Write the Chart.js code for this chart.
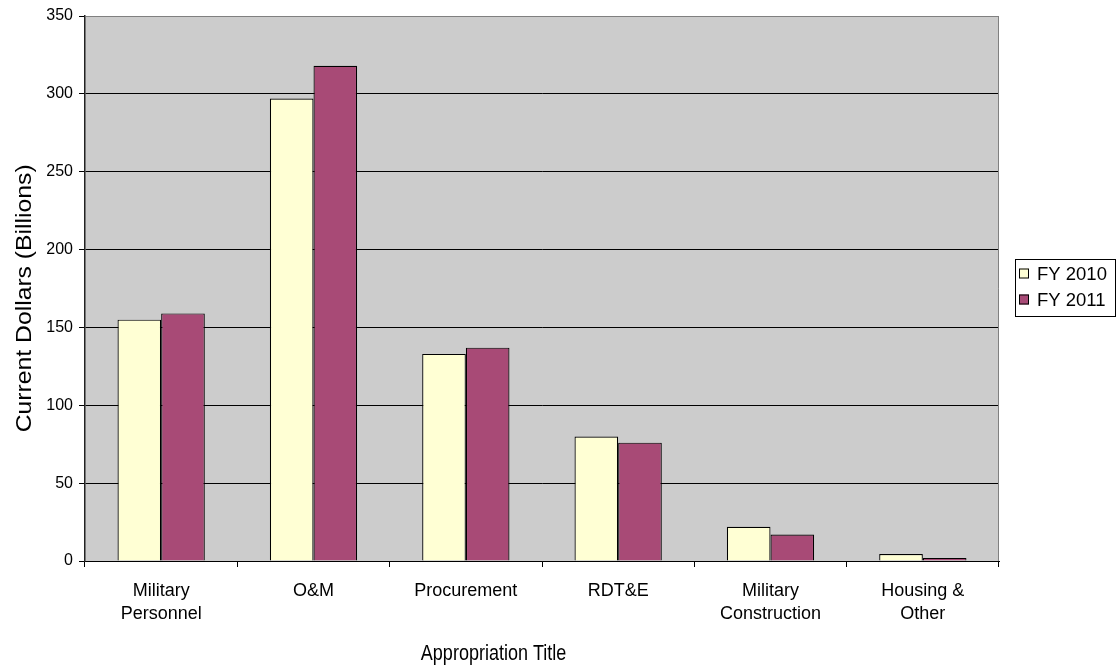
<!DOCTYPE html>
<html>
<head>
<meta charset="utf-8">
<title>Appropriation Title — FY 2010 vs FY 2011</title>
<script src="https://cdn.jsdelivr.net/npm/chart.js@4/dist/chart.umd.min.js"></script>
<style>
  html, body { margin: 0; padding: 0; background: #ffffff; }
  canvas { display: block; }
</style>
</head>
<body>
<canvas id="chart" width="1117" height="667"></canvas>
<script>
// Categories (multi-line labels as drawn under the axis)
const categories = [
  ['Military', 'Personnel'],
  'O&M',
  'Procurement',
  'RDT&E',
  ['Military', 'Construction'],
  ['Housing &', 'Other']
];

// Budget by appropriation title, current dollars (billions)
const fy2010 = [155, 297, 133, 80, 22, 4.5];
const fy2011 = [159, 318, 137, 76, 17, 2];

const seriesNames = ['FY 2010', 'FY 2011'];
const yTicks = [0, 50, 100, 150, 200, 250, 300, 350];

const xTitle = 'Appropriation Title';
const yTitle = 'Current Dollars (Billions)';

const FONT = '"Liberation Sans", Arial, sans-serif';

// Grey plot area with a thin grey frame on top/right
const plotBackground = {
  id: 'plotBackground',
  beforeDraw(chart) {
    const { ctx, chartArea: a } = chart;
    ctx.save();
    ctx.fillStyle = '#CCCCCC';
    ctx.fillRect(a.left, a.top, a.right - a.left, a.bottom - a.top);
    ctx.restore();
  },
  afterDraw(chart) {
    const { ctx, chartArea: a } = chart;
    ctx.save();
    ctx.strokeStyle = '#808080';
    ctx.lineWidth = 1;
    ctx.beginPath();
    ctx.moveTo(Math.round(a.left) + 0.5, Math.round(a.top) + 0.5);
    ctx.lineTo(Math.round(a.right) - 0.5, Math.round(a.top) + 0.5);
    ctx.lineTo(Math.round(a.right) - 0.5, Math.round(a.bottom));
    ctx.stroke();
    ctx.restore();
  }
};

// Axis titles, slightly stretched along their length
const axisTitles = {
  id: 'axisTitles',
  afterDraw(chart) {
    const { ctx, chartArea: a } = chart;
    ctx.save();
    ctx.fillStyle = '#000';
    ctx.textAlign = 'center';
    ctx.textBaseline = 'alphabetic';

    // x title
    ctx.save();
    ctx.translate(a.left + (a.right - a.left) * 0.447, 660);
    ctx.scale(1, 1.18);
    ctx.font = '18px ' + FONT;
    ctx.fillText(xTitle, 0, 0);
    ctx.restore();

    // y title
    ctx.save();
    ctx.translate(31, a.top + (a.bottom - a.top) * 0.518);
    ctx.rotate(-Math.PI / 2);
    ctx.scale(1.15, 1);
    ctx.font = '21.5px ' + FONT;
    ctx.fillText(yTitle, 0, 0);
    ctx.restore();

    ctx.restore();
  }
};

// Framed legend to the right of the plot
const boxLegend = {
  id: 'boxLegend',
  afterDraw(chart) {
    const { ctx } = chart;
    const sets = chart.data.datasets;
    ctx.save();
    ctx.strokeStyle = '#000';
    ctx.lineWidth = 1;
    ctx.strokeRect(1015.5, 259.5, 100, 57);
    ctx.font = '18.5px ' + FONT;
    ctx.textBaseline = 'middle';
    ctx.textAlign = 'left';
    const rows = [273.5, 299.5];
    sets.forEach((ds, i) => {
      const cy = rows[i];
      ctx.fillStyle = ds.backgroundColor;
      ctx.fillRect(1019, cy - 5, 10, 10);
      ctx.strokeStyle = '#000';
      ctx.strokeRect(1019.5, cy - 4.5, 9, 9);
      ctx.fillStyle = '#000';
      ctx.fillText(ds.label, 1037, cy + 1);
    });
    ctx.restore();
  }
};

new Chart(document.getElementById('chart'), {
  type: 'bar',
  data: {
    labels: categories,
    datasets: [
      {
        label: seriesNames[0],
        data: fy2010,
        backgroundColor: '#FFFFD4',
        borderColor: '#000',
        borderWidth: 1.2,
        categoryPercentage: 0.573,
        barPercentage: 1.0
      },
      {
        label: seriesNames[1],
        data: fy2011,
        backgroundColor: '#A84A76',
        borderColor: '#000',
        borderWidth: 1.2,
        categoryPercentage: 0.573,
        barPercentage: 1.0
      }
    ]
  },
  options: {
    responsive: false,
    animation: false,
    devicePixelRatio: 1,
    layout: { padding: { top: 16, right: 118, bottom: 0, left: 0 } },
    plugins: {
      legend: { display: false },
      tooltip: { enabled: false },
      title: { display: false }
    },
    scales: {
      x: {
        offset: true,
        grid: {
          offset: true,
          drawOnChartArea: false,
          drawTicks: true,
          tickLength: 6,
          color: '#000'
        },
        border: { color: '#000', width: 1 },
        ticks: {
          color: '#000',
          font: { family: FONT, size: 18, lineHeight: 1.25 },
          padding: 13,
          maxRotation: 0,
          autoSkip: false
        },
        afterFit(scale) { scale.height = 106; }
      },
      y: {
        min: 0,
        max: 350,
        afterBuildTicks(scale) { scale.ticks = yTicks.map(v => ({ value: v })); },
        grid: {
          color: (c) => (c.tick && c.tick.value === 350 ? '#808080' : '#000'),
          lineWidth: 1,
          drawTicks: true,
          tickLength: 6,
          tickColor: '#000'
        },
        border: { color: '#222', width: 1.5 },
        ticks: {
          color: '#000',
          font: { family: FONT, size: 16 },
          padding: 6
        },
        afterFit(scale) { scale.width = 85; }
      }
    }
  },
  plugins: [plotBackground, axisTitles, boxLegend]
});
</script>
</body>
</html>
